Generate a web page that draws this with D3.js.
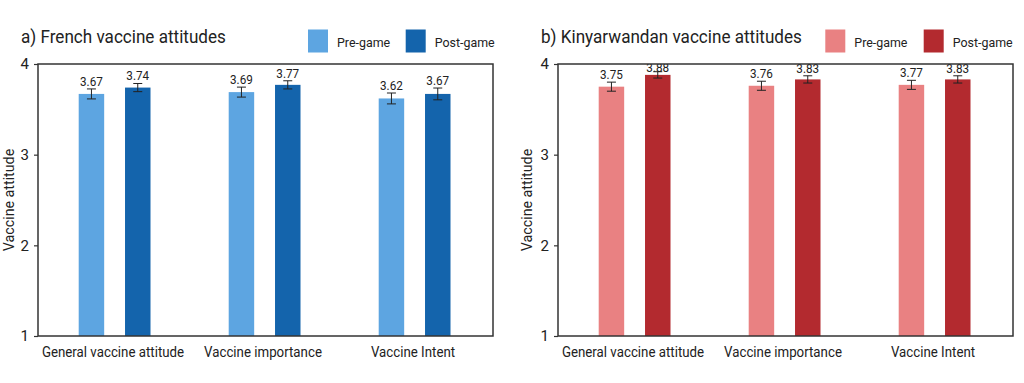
<!DOCTYPE html>
<html><head><meta charset="utf-8">
<script src="https://cdn.jsdelivr.net/npm/d3@7"></script>
<style>
body{margin:0;background:#fff;}
text{font-family:Roboto,"Noto Sans",sans-serif;fill:#222;}
</style></head>
<body>
<svg id="chart" width="1024" height="383"></svg>
<script>
const categories = ["General vaccine attitude", "Vaccine importance", "Vaccine Intent"];
const seriesNames = ["Pre-game", "Post-game"];
const frenchPre = [3.67, 3.69, 3.62];
const frenchPost = [3.74, 3.77, 3.67];
const frenchPreErr = [0.055, 0.055, 0.06];
const frenchPostErr = [0.045, 0.045, 0.065];
const kinyaPre = [3.75, 3.76, 3.77];
const kinyaPost = [3.88, 3.83, 3.83];
const kinyaPreErr = [0.05, 0.05, 0.05];
const kinyaPostErr = [0.035, 0.04, 0.04];
const yTicks = [1, 2, 3, 4];
const titles = ["a) French vaccine attitudes", "b) Kinyarwandan vaccine attitudes"];
const yLabel = "Vaccine attitude";

const panels = [
  {title: titles[0], pre: frenchPre, post: frenchPost, preErr: frenchPreErr, postErr: frenchPostErr,
   colors: ["#5DA5E1", "#1464AC"], ox: 0},
  {title: titles[1], pre: kinyaPre, post: kinyaPost, preErr: kinyaPreErr, postErr: kinyaPostErr,
   colors: ["#E98182", "#B32A2F"], ox: 520}
];

const svg = d3.select("#chart");
const plotL = 38, plotR = 493, plotT = 64, plotB = 336;

function condText(sel, x, y, sx) {
  return sel.attr("transform", `translate(${x},${y}) scale(${sx},1)`);
}

panels.forEach((p, pi) => {
  const g = svg.append("g").attr("transform", `translate(${p.ox},0)`);
  const y = d3.scaleLinear().domain([1, 4]).range([plotB, plotT]);
  const x0 = d3.scaleBand().domain(categories).range([40, 490]);
  const x1 = d3.scaleBand().domain(seriesNames).range([38.7, 110.5]).paddingInner(0.45).paddingOuter(0);

  const clipId = "clip" + pi;
  g.append("clipPath").attr("id", clipId).append("rect")
    .attr("x", plotL).attr("y", plotT).attr("width", plotR - plotL).attr("height", plotB - plotT);

  const data = [];
  categories.forEach((c, i) => {
    data.push({cat: c, s: seriesNames[0], v: p.pre[i], e: p.preErr[i], col: p.colors[0]});
    data.push({cat: c, s: seriesNames[1], v: p.post[i], e: p.postErr[i], col: p.colors[1]});
  });

  g.append("g").selectAll("rect").data(data).join("rect")
    .attr("x", d => x0(d.cat) + x1(d.s))
    .attr("width", x1.bandwidth())
    .attr("y", d => y(d.v))
    .attr("height", d => y(1) - y(d.v))
    .attr("fill", d => d.col);

  // error bars
  const eb = g.append("g").attr("stroke", "#222").attr("stroke-width", 1);
  data.forEach(d => {
    const cx = x0(d.cat) + x1(d.s) + x1.bandwidth() / 2;
    eb.append("line").attr("x1", cx).attr("x2", cx).attr("y1", y(d.v + d.e)).attr("y2", y(d.v - d.e));
    eb.append("line").attr("x1", cx - 4.5).attr("x2", cx + 4.5).attr("y1", y(d.v + d.e)).attr("y2", y(d.v + d.e));
    eb.append("line").attr("x1", cx - 4.5).attr("x2", cx + 4.5).attr("y1", y(d.v - d.e)).attr("y2", y(d.v - d.e));
  });

  // value labels
  g.append("g").attr("clip-path", `url(#${clipId})`).selectAll("text").data(data).join("text")
    .attr("transform", d => `translate(${x0(d.cat) + x1(d.s) + x1.bandwidth() / 2},${Math.max(y(d.v + d.e) - 3, plotT + 8)}) scale(0.9,1)`)
    .attr("text-anchor", "middle")
    .attr("font-size", 13)
    .text(d => d.v.toFixed(2));

  // frame
  g.append("rect").attr("x", plotL).attr("y", plotT).attr("width", plotR - plotL).attr("height", plotB - plotT)
    .attr("fill", "none").attr("stroke", "#333").attr("stroke-width", 1.5);

  // y axis
  const ya = g.append("g").attr("transform", `translate(${plotL},0)`)
    .call(d3.axisLeft(y).tickValues(yTicks).tickFormat(d3.format("d")).tickSize(4).tickPadding(5));
  ya.select(".domain").remove();
  ya.selectAll("line").attr("stroke", "#333").attr("stroke-width", 1.2);
  ya.selectAll("text").attr("font-size", 15).attr("fill", "#222").style("font-family", "Roboto");

  // x axis labels
  const xa = g.append("g").attr("transform", `translate(0,${plotB})`)
    .call(d3.axisBottom(x0).tickSize(0).tickPadding(11));
  xa.select(".domain").remove();
  xa.selectAll("text").attr("font-size", 14).attr("fill", "#222").style("font-family", "Roboto")
    .attr("transform", "translate(-2,0) scale(0.95,1)");

  // y label
  g.append("text").attr("transform", `translate(${pi === 0 ? 14 : 12},${(plotT + plotB) / 2}) rotate(-90) scale(0.95,1)`)
    .attr("text-anchor", "middle").attr("font-size", 15).text(yLabel);

  // title
  condText(g.append("text"), 21, 43, 0.9).attr("font-size", 19).text(p.title);

  // legend
  const legX = pi === 0 ? [308, 405.7] : [305.3, 403.7];
  seriesNames.forEach((s, i) => {
    g.append("rect").attr("x", legX[i]).attr("y", 29.5).attr("width", 20).attr("height", 23)
      .attr("fill", p.colors[i]);
    condText(g.append("text"), legX[i] + 29, 46.5, 0.92).attr("font-size", 13.5).text(s);
  });
});
</script>
</body></html>
